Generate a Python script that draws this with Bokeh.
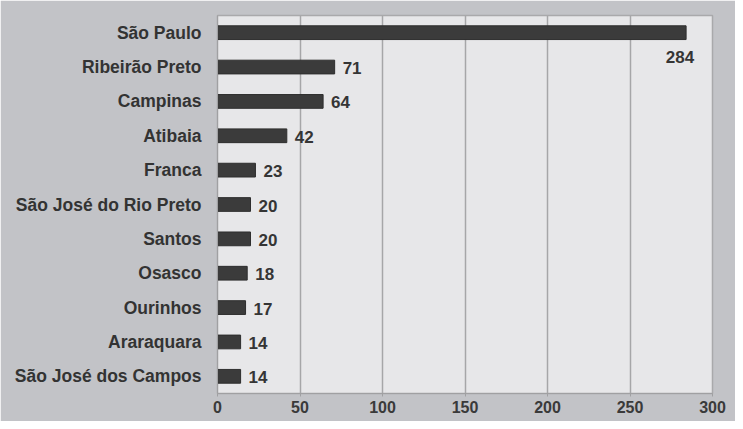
from bokeh.plotting import figure
from bokeh.models import ColumnDataSource, FactorRange, Range1d, FixedTicker
from bokeh.embed import file_html
from bokeh.resources import INLINE
from bokeh.core.properties import value
import numpy as np

cities = ["São Paulo", "Ribeirão Preto", "Campinas", "Atibaia", "Franca",
          "São José do Rio Preto", "Santos", "Osasco", "Ourinhos",
          "Araraquara", "São José dos Campos"]
counts = [284, 71, 64, 42, 23, 20, 20, 18, 17, 14, 14]
x_ticks = [0, 50, 100, 150, 200, 250, 300]

FONT = "Liberation Sans"
counts_arr = np.array(counts)
inside = counts_arr > 250

src_out = ColumnDataSource(dict(city=[c for c, f in zip(cities, inside) if not f],
                                n=[v for v, f in zip(counts, inside) if not f],
                                lab=[str(v) for v, f in zip(counts, inside) if not f]))
src_in = ColumnDataSource(dict(city=[c for c, f in zip(cities, inside) if f],
                               n=[v for v, f in zip(counts, inside) if f],
                               lab=[str(v) for v, f in zip(counts, inside) if f]))
src = ColumnDataSource(dict(city=cities, n=counts))

p = figure(width=735, height=421, output_backend="svg", toolbar_location=None,
           y_range=FactorRange(factors=list(reversed(cities)), range_padding=0),
           x_range=Range1d(0, 300),
           min_border_left=217, min_border_right=23, min_border_top=15, min_border_bottom=28)

p.background_fill_color = "#e7e7e9"
p.border_fill_color = "#c2c3c7"
p.outline_line_color = "#a9a9ab"
p.outline_line_width = 1.5

p.hbar(y="city", right="n", left=0, height=0.4, source=src,
       fill_color="#3b3b3b", line_color="#2e2e2e", line_width=1)

p.text(x="n", y="city", text="lab", source=src_out, x_offset=8, y_offset=1,
       text_align="left", text_baseline="middle", text_color="#353535",
       text_font=value(FONT), text_font_style="bold", text_font_size="17px")
p.text(x="n", y="city", text="lab", source=src_in, x_offset=8, y_offset=24,
       text_align="right", text_baseline="middle", text_color="#353535",
       text_font=value(FONT), text_font_style="bold", text_font_size="17px")

p.xaxis.ticker = FixedTicker(ticks=x_ticks)
p.xgrid.ticker = FixedTicker(ticks=x_ticks)
p.xgrid.grid_line_color = "#a6a6a8"
p.xgrid.grid_line_width = 1.5
p.ygrid.grid_line_color = None

p.xaxis.axis_line_color = "#a0a0a2"
p.xaxis.major_tick_line_color = "#a0a0a2"
p.xaxis.major_tick_out = 3
p.xaxis.major_tick_in = 0
p.xaxis.minor_tick_line_color = None
p.xaxis.major_label_standoff = 4
p.xaxis.major_label_text_font = FONT
p.xaxis.major_label_text_font_style = "bold"
p.xaxis.major_label_text_font_size = "16px"
p.xaxis.major_label_text_color = "#3a3a3a"

p.yaxis.axis_line_color = "#a0a0a2"
p.yaxis.major_tick_line_color = None
p.yaxis.major_label_standoff = 10
p.yaxis.major_label_text_font = FONT
p.yaxis.major_label_text_font_style = "bold"
p.yaxis.major_label_text_font_size = "17.5px"
p.yaxis.major_label_text_color = "#333333"

open("out.html", "w").write(file_html(p, INLINE))
